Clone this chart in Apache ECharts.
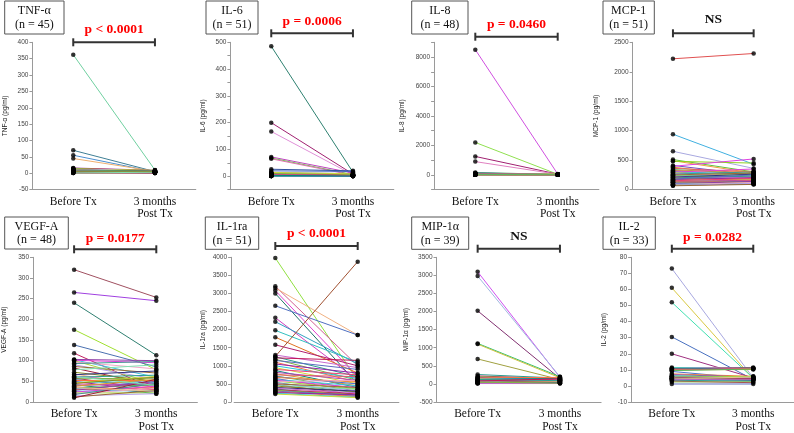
<!DOCTYPE html>
<html><head><meta charset="utf-8">
<script src="https://cdn.jsdelivr.net/npm/echarts@6/dist/echarts.min.js"></script>
<style>html,body{margin:0;padding:0;background:#fff}#c{width:794px;height:433px}</style>
</head><body><div id="c"></div>
<script>
const categories = ['Before Tx', '3 months\nPost Tx'];
const panelNames = ['TNF-α', 'IL-6', 'IL-8', 'MCP-1', 'VEGF-A', 'IL-1ra', 'MIP-1α', 'IL-2'];
const panelN = [45, 51, 48, 51, 48, 51, 39, 33];
const yAxisNames = ['TNF-α (pg/ml)', 'IL-6 (pg/ml)', 'IL-8 (pg/ml)', 'MCP-1 (pg/ml)', 'VEGF-A (pg/ml)', 'IL-1ra (pg/ml)', 'MIP-1α (pg/ml)', 'IL-2 (pg/ml)'];
const pLabels = ['p < 0.0001', 'p = 0.0006', 'p = 0.0460', 'NS', 'p = 0.0177', 'p < 0.0001', 'NS', 'p = 0.0282'];
const yMin = [-50, -50, -1000, 0, 0, 0, -500, -10];
const yMax = [400, 500, 9000, 2500, 350, 4000, 3500, 80];
const yStep = [50, 50, 1000, 500, 50, 500, 500, 10];
const yLabelEvery = [50, 100, 2000, 500, 50, 500, 500, 10];
const yLabelMin = [-50, 0, 0, 0, 0, 0, -500, -10];
const yLabelMax = [400, 500, 8000, 2500, 350, 4000, 3500, 80];

const tnfBefore = [362,70,55,45,16,15,14,13,12,12,11,11,10,10,9,9,8,8,8,7,7,7,6,6,6,5,5,5,5,4,4,4,4,3,3,3,3,2,2,2,2,1,1,1,6];
const tnfAfter  = [10,5,4,6,9,8,5,9,6,4,7,3,5,6,2,4,7,3,5,2,6,3,4,1,5,3,2,4,3,2,1,5,2,3,1,4,2,1,3,2,1,2,1,3,6];
const il6Before = [485,200,167,72,68,65,26,20,15,12,10,9,8,8,7,7,6,6,5,5,5,4,4,4,3,3,3,3,2,2,2,2,2,1,1,1,1,1,1,0.5,0.5,0.5,9,11,6,4,3,2,14,5,3];
const il6After  = [15,8,5,12,6,4,20,18,3,10,6,2,4,7,3,5,2,4,3,2,6,1,3,2,4,1,2,3,1,2,1,3,1,2,1,1,2,0.5,1,0.5,1,0.5,5,7,2,3,1,1,9,2,1];
const il8Before = [8500,2200,1250,900,160,130,110,95,85,80,75,70,65,60,55,50,48,45,42,40,38,35,32,30,28,26,24,22,20,18,16,15,14,12,11,10,9,8,7,6,5,4,58,36,25,17,13,30];
const il8After  = [60,40,50,45,30,25,35,20,28,22,18,40,15,25,20,30,12,18,22,15,10,25,14,18,12,20,10,15,8,12,10,8,6,9,7,5,6,4,5,3,4,3,20,15,10,8,6,12];
const mcpBefore = [2220,940,650,510,490,480,410,395,380,360,340,330,320,310,300,295,285,275,265,260,250,245,240,230,225,215,210,200,195,190,180,175,170,160,155,150,140,135,130,125,120,115,110,100,95,90,85,80,75,70,65];
const mcpAfter  = [2310,430,360,300,280,450,250,520,230,300,270,200,310,180,260,350,240,220,300,190,280,170,240,210,150,260,200,230,160,180,250,140,200,130,170,190,120,160,110,150,130,100,120,140,110,90,100,120,95,105,88];
const vegfBefore = [320,265,240,175,138,118,103,102,101,100,97,93,90,86,82,78,72,68,66,63,60,58,56,54,52,50,48,46,44,42,40,38,36,34,32,30,28,26,24,22,20,18,15,12,10,62,45,35];
const vegfAfter  = [253,245,113,78,85,30,100,60,95,45,80,98,55,70,40,90,50,35,75,45,65,30,58,40,52,25,48,62,38,20,44,55,30,42,25,35,50,28,38,22,33,45,20,28,55,40,60,26];
const il1raBefore = [3980,3200,3150,3080,3000,2660,2330,2220,1980,1790,1580,1260,1300,1250,1220,1180,1150,1100,1050,1000,950,900,870,820,780,750,720,700,680,650,620,600,580,560,540,520,500,480,460,440,420,400,380,360,340,320,300,280,260,240,220];
const il1raAfter  = [600,1000,1850,700,500,1850,600,1050,1100,800,1000,3880,950,700,1150,600,900,550,800,650,500,750,400,600,450,700,350,500,550,300,450,400,350,600,250,300,400,200,350,280,180,300,250,150,220,200,180,150,200,130,120];
const mipBefore = [3100,2980,2020,1120,1100,690,260,220,200,180,170,160,150,140,130,120,110,100,95,90,85,80,75,70,65,60,55,50,45,40,35,30,25,20,15,10,120,80,50];
const mipAfter  = [180,200,150,200,170,120,160,140,150,120,180,100,130,90,110,150,80,100,130,70,90,60,110,50,80,40,100,60,30,70,50,40,20,60,30,10,90,140,20];
const il2Before = [73,61,52,30.5,20,11.5,11,10.8,10.5,10.2,10,9.8,9.5,9,7.5,7,6.5,6,6,5.5,5.5,5,5,5,4.8,4.5,4.5,4.2,4,3.5,3,2.5,1.2];
const il2After  = [5,4.5,4.8,4,5,11,10.5,11.5,11.2,10.8,10.2,11,10.5,4.5,6,5.5,5,4.5,5.8,4,5.2,4.8,4.2,4.6,3.8,4,5.5,3.5,4.2,3,2,2.5,1.2];

const beforeSets = [tnfBefore, il6Before, il8Before, mcpBefore, vegfBefore, il1raBefore, mipBefore, il2Before];
const afterSets = [tnfAfter, il6After, il8After, mcpAfter, vegfAfter, il1raAfter, mipAfter, il2After];

// styles
const palette = ['#e05a6a','#5cb85c','#4a6fd0','#f08a3c','#8e3fa8','#3fc2e0','#e040d8','#a8d840','#f2a6c8','#3f9990','#b8a0f0','#9a6a34','#a02040','#7fe0b0','#8a8a20','#f0c090','#30307f','#c86ad0','#2a9d8f','#c2185b','#7cb342','#5c6bc0','#ff7043','#8e24aa','#26c6da','#cddc39','#ec407a','#00897b','#ab47bc','#d4a030'];
const leadColors = [
  ['#70d0a0','#3f7f95','#4a8fd0','#f0b070','#9b3fa0','#d04848','#60b040'],
  ['#2e8070','#a02070','#e090d8','#c040c0','#70c050','#e070b0','#3050a0','#4060c0'],
  ['#d050e0','#90e050','#a02070','#e080c0','#40a060','#4060c0'],
  ['#e05050','#40b0e0','#a8a8e0','#60c040','#f0a040','#90d020','#7050c0','#e040e0'],
  ['#a05060','#a040e0','#2f7f70','#a0e030','#4a70b0','#c02060'],
  ['#90e040','#d06090','#f0b080','#e040d0','#207068','#5070c0','#d040c0','#30a0c0','#30c0c0','#e07020','#b02070','#a05030'],
  ['#d050f0','#a0b8e0','#803070','#30c070','#d0c040','#a0a040'],
  ['#a8a8e0','#d8c840','#40e0b0','#4870c0','#a03080']
];
const layout = [
  {left:32.4, top:42.3, width:163.4, height:147.3, yOff:0, nameGap:24, box:[4.7,1,59.3,33], brY:42.3, pY:30},
  {left:230.4, top:42.3, width:163.4, height:147.3, yOff:0, nameGap:24, box:[206,1,52,33], brY:33.3, pY:21.7},
  {left:434.1, top:42.3, width:164.8, height:147.3, yOff:0, nameGap:28, box:[411.7,1,56.3,33], brY:36.7, pY:25},
  {left:632.6, top:42.3, width:165.4, height:147.3, yOff:0, nameGap:33, box:[603,1,51.3,33], brY:33.3, pY:20},
  {left:32.8, top:257.3, width:164.6, height:147.4, yOff:0, nameGap:25, box:[4.7,217,63.6,32], brY:249.3, pY:238.7},
  {left:234.1, top:257.3, width:164.8, height:147.4, yOff:3, nameGap:24, box:[205.3,217,53.4,32.3], brY:246, pY:233.3},
  {left:436.5, top:257.3, width:164.6, height:147.4, yOff:0, nameGap:27, box:[411.7,217,57,32.3], brY:248.7, pY:236.7},
  {left:631.1, top:257.3, width:165.2, height:147.4, yOff:0, nameGap:23, box:[603,217,52.3,32.3], brY:248.7, pY:237.7}
];

const serif = 'Liberation Serif';
const sans = 'Liberation Sans';

const grids = [], xAxes = [], yAxes = [], series = [], titles = [];
for (let i = 0; i < 8; i++) {
  const L = layout[i];
  grids.push({left: L.left, top: L.top, width: L.width, height: L.height, containLabel: false});
  xAxes.push({
    type: 'category', gridIndex: i, data: categories, boundaryGap: true,
    axisLine: {show: true, onZero: false, lineStyle: {color: '#9a9a9a', width: 1}},
    axisTick: {show: false},
    axisLabel: {interval: 0, fontFamily: serif, fontSize: 11.5, color: '#111', margin: 6, lineHeight: 12.5}
  });
  const lm = yLabelMin[i], lx = yLabelMax[i], le = yLabelEvery[i];
  yAxes.push({
    type: 'value', gridIndex: i, min: yMin[i], max: yMax[i], interval: yStep[i], offset: L.yOff,
    axisLine: {show: true, lineStyle: {color: '#9a9a9a', width: 1}},
    axisTick: {show: true, length: 3, lineStyle: {color: '#9a9a9a'}},
    splitLine: {show: false},
    axisLabel: {fontFamily: sans, fontSize: 6.5, color: '#444', margin: 4,
      formatter: v => (v >= lm && v <= lx && Math.abs(v % le) < 1e-9) ? String(v) : ''},
    name: yAxisNames[i], nameLocation: 'middle', nameGap: L.nameGap, nameRotate: 90,
    nameTextStyle: {fontFamily: sans, fontSize: 6.5, color: '#222'}
  });
  const b = beforeSets[i], a = afterSets[i];
  const lead = leadColors[i];
  for (let j = 0; j < b.length; j++) {
    const col = j < lead.length ? lead[j] : palette[(j + i * 7) % palette.length];
    series.push({
      type: 'line', xAxisIndex: i, yAxisIndex: i, data: [b[j], a[j]],
      symbol: 'none', silent: true, z: 2,
      lineStyle: {color: col, width: 1}
    });
  }
  series.push({
    type: 'scatter', xAxisIndex: i, yAxisIndex: i, silent: true, z: 5,
    symbolSize: 4.5, itemStyle: {color: '#000'},
    data: b.map(v => [0, v]).concat(a.map(v => [1, v]))
  });
  const [bx, by, bw, bh] = L.box;
  titles.push({
    text: panelNames[i] + '\n(n = ' + panelN[i] + ')',
    left: bx + bw / 2, top: by + bh / 2 + 0.5, textAlign: 'center', textVerticalAlign: 'middle',
    padding: 0, z: 12,
    textStyle: {fontFamily: serif, fontSize: 12, fontWeight: 'normal', color: '#111', lineHeight: 13.5, align: 'center'}
  });
}

const chart = echarts.init(document.getElementById('c'));
chart.setOption({animation: false, title: titles, grid: grids, xAxis: xAxes, yAxis: yAxes, series: series});

const graphics = [];
const pTitles = titles.slice();
for (let i = 0; i < 8; i++) {
  const L = layout[i];
  const [bx, by, bw, bh] = L.box;
  graphics.push({type: 'rect', shape: {x: bx, y: by, width: bw, height: bh},
    style: {fill: '#fff', stroke: '#555', lineWidth: 1}, z: -1, zlevel: 0});
  const x0 = chart.convertToPixel({xAxisIndex: i}, 0);
  const x1 = chart.convertToPixel({xAxisIndex: i}, 1);
  const y = L.brY;
  graphics.push({type: 'line', shape: {x1: x0, y1: y, x2: x1, y2: y}, style: {stroke: '#333', lineWidth: 2}, z: 10});
  graphics.push({type: 'line', shape: {x1: x0, y1: y - 4, x2: x0, y2: y + 4}, style: {stroke: '#333', lineWidth: 2}, z: 10});
  graphics.push({type: 'line', shape: {x1: x1, y1: y - 4, x2: x1, y2: y + 4}, style: {stroke: '#333', lineWidth: 2}, z: 10});
  const isNS = pLabels[i] === 'NS';
  pTitles.push({
    text: pLabels[i], left: (x0 + x1) / 2, top: L.pY, textAlign: 'center', textVerticalAlign: 'middle',
    padding: 0, z: 12,
    textStyle: {fontFamily: serif, fontSize: 13.5, fontWeight: 'bold', color: isNS ? '#111' : '#ff0000'}
  });
}
chart.setOption({graphic: graphics, title: pTitles});
</script>
</body></html>
